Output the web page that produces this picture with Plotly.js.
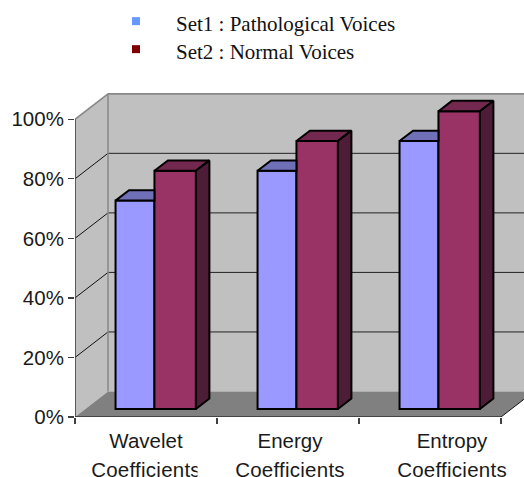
<!DOCTYPE html>
<html><head><meta charset="utf-8">
<script src="https://cdn.plot.ly/plotly-3.0.1.min.js"></script>
<style>
html,body{margin:0;padding:0;background:#fff;overflow:hidden}
.legend .legendsymbols{transform:translateY(-2px)}
.x2tick text{letter-spacing:.25px}
</style>
</head><body><div id="chart" style="width:524px;height:477px"></div>
<script>
var categoriesLine1 = ["Wavelet", "Energy", "Entropy"];
var categoriesLine2 = ["Coefficients", "Coefficients", "Coefficients"];
var set1Values = [70, 80, 90];
var set2Values = [80, 90, 100];
var set1Name = "Set1 : Pathological Voices";
var set2Name = "Set2 : Normal Voices";
var yTickValues = [0, 20, 40, 60, 80, 100];
var yTickLabels = ["0%", "20%", "40%", "60%", "80%", "100%"];

// depth geometry in axis units
var wallDX = 0.2324, wallDY = 8.566;   // depth of the chart box
var barDX = 0.095, barDY = 3.5;        // depth of a bar
var barBase = 2.69;                    // bars stand on the floor, set back from the front
var barW1 = 0.274, barW2 = 0.292;
var groupLeft = -0.2145;
var xMin = -0.5, xMax = 2.662, yMax = 109.84;
var labelPos = [0, 1.014, 2.155];
var catEdges = [-0.5, 0.5, 1.5, 2.5];

var set1Front = "#9999FF", set1Top = "#7070B8";
var set2Front = "#993366", set2Top = "#73294F", set2Side = "#4D1C36";
var edgeW = 2;

function poly(xs, ys, color) {
  return {type: "scatter", mode: "lines", x: xs, y: ys, fill: "toself", fillcolor: color,
    line: {color: "#000", width: edgeW}, hoverinfo: "skip", showlegend: false};
}
function path(pts) {
  return "M" + pts.map(function (p) { return p[0] + "," + p[1]; }).join("L") + "Z";
}
var wallShapes = [];
function fillShape(pts, color) {
  wallShapes.push({type: "path", xref: "x", yref: "y", layer: "below", path: path(pts),
    fillcolor: color, line: {width: 0}});
}
function lineShape(x0, y0, x1, y1, color, w) {
  wallShapes.push({type: "line", xref: "x", yref: "y", layer: "below", x0: x0, y0: y0, x1: x1, y1: y1,
    line: {color: color, width: w}});
}
var right = catEdges[3];
var backL = xMin + wallDX, backR = right + wallDX;
fillShape([[backL, wallDY], [backL, 100 + wallDY], [backR, 100 + wallDY], [backR, wallDY]], "#C0C0C0");
fillShape([[xMin, 0], [xMin, 100], [backL, 100 + wallDY], [backL, wallDY]], "#C0C0C0");
fillShape([[xMin, 0], [backL, wallDY], [backR, wallDY], [right, 0]], "#808080");
yTickValues.forEach(function (v) {
  if (v === 0 || v === 100) return;
  lineShape(backL, v + wallDY, backR, v + wallDY, "#222", 1);
  lineShape(xMin, v, backL, v + wallDY, "#111", 1);
});
lineShape(backL, wallDY, backL, 100 + wallDY, "#888", 1.5);
lineShape(backL, 100 + wallDY, backR, 100 + wallDY, "#888", 1.8);
lineShape(xMin, 100, backL, 100 + wallDY, "#888", 1.5);
lineShape(right, 0, backR, wallDY, "#111", 1);

var traces = [];
var x1s = categoriesLine1.map(function (c, i) { return i + groupLeft + barW1 / 2; });
var x2s = categoriesLine1.map(function (c, i) { return i + groupLeft + barW1 + barW2 / 2; });

traces.push({type: "bar", x: x1s, y: set1Values, base: barBase, width: barW1, name: set1Name,
  marker: {color: set1Front, line: {color: "#000", width: edgeW}}, showlegend: false, hoverinfo: "skip"});
traces.push({type: "bar", x: x2s, y: set2Values, base: barBase, width: barW2, name: set2Name,
  marker: {color: set2Front, line: {color: "#000", width: edgeW}}, showlegend: false, hoverinfo: "skip"});

categoriesLine1.forEach(function (c, i) {
  var a0 = x1s[i] - barW1 / 2, a1 = x1s[i] + barW1 / 2, t1 = set1Values[i] + barBase;
  traces.push(poly([a0, a0 + barDX, a1, a1, a0], [t1, t1 + barDY, t1 + barDY, t1, t1], set1Top));
  var b0 = x2s[i] - barW2 / 2, b1 = x2s[i] + barW2 / 2, t2 = set2Values[i] + barBase;
  traces.push(poly([b0, b0 + barDX, b1 + barDX, b1, b0], [t2, t2 + barDY, t2 + barDY, t2, t2], set2Top));
  traces.push(poly([b1, b1 + barDX, b1 + barDX, b1, b1],
                   [barBase, barBase + barDY, t2 + barDY, t2, barBase], set2Side));
});

// axis lines
traces.push({type: "scatter", mode: "lines", x: [xMin, xMin], y: [0, 100], cliponaxis: false,
  line: {color: "#404040", width: 1.6}, hoverinfo: "skip", showlegend: false});
traces.push({type: "scatter", mode: "lines", x: [xMin, right], y: [0, 0], cliponaxis: false,
  line: {color: "#303030", width: 1.6}, hoverinfo: "skip", showlegend: false});

// legend entries
traces.push({type: "scatter", mode: "markers", x: [null], y: [null], name: set1Name,
  marker: {symbol: "square", size: 8, color: "#6699FF"}, hoverinfo: "skip"});
traces.push({type: "scatter", mode: "markers", x: [null], y: [null], name: set2Name,
  marker: {symbol: "square", size: 8, color: "#800000"}, hoverinfo: "skip"});

// carrier for the second line of the category labels
traces.push({type: "scatter", mode: "markers", x: [null], y: [null], xaxis: "x2", yaxis: "y",
  showlegend: false, hoverinfo: "skip"});

var axisFont = {family: "Liberation Sans, Arial, sans-serif", size: 20.5, color: "#1a1a1a"};
var layout = {
  width: 524, height: 477, margin: {l: 75, r: 0, t: 90, b: 60, pad: 0},
  paper_bgcolor: "#fff", plot_bgcolor: "rgba(0,0,0,0)",
  barmode: "overlay", hovermode: false,
  showlegend: true,
  legend: {x: (96 - 75) / 449, xanchor: "left", y: 1 + (90 - 3) / 327, yanchor: "top",
    bgcolor: "rgba(0,0,0,0)", itemwidth: 70, traceorder: "normal",
    itemclick: false, itemdoubleclick: false,
    font: {family: "Liberation Serif, Times New Roman, serif", size: 21, color: "#111"}},
  xaxis: {type: "linear", range: [xMin, xMax], showgrid: false, zeroline: false, showline: false,
    tickmode: "array", tickvals: labelPos, ticktext: categoriesLine1, ticks: "", tickangle: 0,
    tickfont: axisFont, ticklabelstandoff: 9,
    minor: {tickmode: "array", tickvals: catEdges, ticks: "outside", ticklen: 6, tickwidth: 1.2, tickcolor: "#404040", showgrid: false}},
  xaxis2: {type: "linear", range: [xMin, xMax], overlaying: "x", anchor: "y", side: "bottom",
    showgrid: false, zeroline: false, showline: false,
    tickmode: "array", tickvals: labelPos, ticktext: categoriesLine2, ticks: "", tickangle: 0,
    tickfont: axisFont, ticklabelstandoff: 38},
  yaxis: {range: [0, yMax], showgrid: false, zeroline: false, showline: false,
    tickmode: "array", tickvals: yTickValues, ticktext: yTickLabels,
    ticks: "outside", ticklen: 6, tickwidth: 1.2, tickcolor: "#404040", tickfont: axisFont},
  shapes: wallShapes.concat([
    {type: "rect", xref: "paper", yref: "paper", layer: "above",
     x0: (197.5 - 75) / 449, x1: (214 - 75) / 449, y0: -60 / 327, y1: -38 / 327,
     fillcolor: "#fff", line: {width: 0}}
  ])
};
Plotly.newPlot("chart", traces, layout, {displayModeBar: false, staticPlot: true}).then(function () {
  var rows = document.querySelectorAll(".legend .traces");
  var row = rows[rows.length - 1];
  var m = /translate\(\s*([-\d.]+)[ ,]+([-\d.]+)\s*\)/.exec(row.getAttribute("transform") || "");
  if (m) row.setAttribute("transform", "translate(" + m[1] + "," + (parseFloat(m[2]) - 2.3) + ")");
});
</script></body></html>
